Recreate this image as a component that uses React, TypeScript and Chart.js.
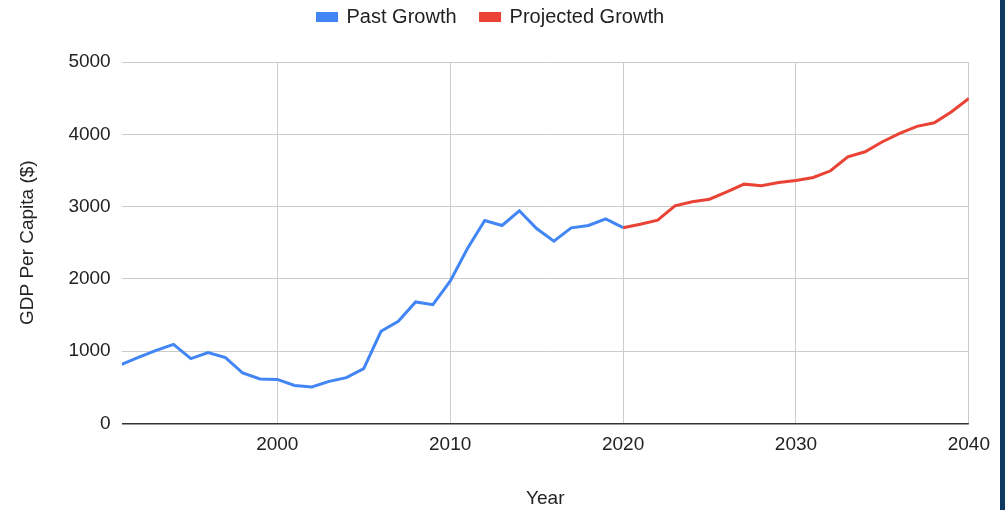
import React, { useEffect, useRef } from "react";
import { Chart, registerables } from "chart.js";

Chart.register(...registerables);

// Historical GDP per capita, 1991–2020
const pastYears = [
  1991, 1992, 1993, 1994, 1995, 1996, 1997, 1998, 1999, 2000,
  2001, 2002, 2003, 2004, 2005, 2006, 2007, 2008, 2009, 2010,
  2011, 2012, 2013, 2014, 2015, 2016, 2017, 2018, 2019, 2020,
];
const pastValues = [
  818, 918, 1011, 1094, 896, 979, 910, 697, 614, 609,
  524, 503, 582, 633, 757, 1274, 1413, 1680, 1643, 1969,
  2419, 2807, 2738, 2941, 2696, 2521, 2705, 2738, 2830, 2708,
];

// Projected GDP per capita, 2020–2040
const projectedYears = [
  2020, 2021, 2022, 2023, 2024, 2025, 2026, 2027, 2028, 2029, 2030,
  2031, 2032, 2033, 2034, 2035, 2036, 2037, 2038, 2039, 2040,
];
const projectedValues = [
  2708, 2756, 2812, 3010, 3066, 3102, 3204, 3310, 3287, 3333, 3361,
  3403, 3495, 3689, 3758, 3897, 4012, 4109, 4160, 4312, 4497,
];

const yearTicks = [2000, 2010, 2020, 2030, 2040];
const gdpTicks = [0, 1000, 2000, 3000, 4000, 5000];

const FONT = "'Liberation Sans', Arial, sans-serif";
const TEXT = "#222222";

// Adds empty space between the legend and the plot area.
const legendGap = {
  id: "legendGap",
  afterInit(chart: any) {
    const legend = chart.legend;
    if (!legend) return;
    const fit = legend.fit;
    legend.fit = function () {
      fit.call(this);
      this.height += 25;
    };
  },
};

export default function App() {
  const canvasRef = useRef<HTMLCanvasElement | null>(null);

  useEffect(() => {
    const canvas = canvasRef.current;
    if (!canvas) return;

    const chart = new Chart(canvas, {
      type: "line",
      data: {
        datasets: [
          {
            label: "Past Growth",
            data: pastYears.map((x, i) => ({ x, y: pastValues[i] })),
            borderColor: "#4285f4",
            backgroundColor: "#4285f4",
            borderWidth: 3,
            pointRadius: 0,
            tension: 0,
          },
          {
            label: "Projected Growth",
            data: projectedYears.map((x, i) => ({ x, y: projectedValues[i] })),
            borderColor: "#ea4335",
            backgroundColor: "#ea4335",
            borderWidth: 3,
            pointRadius: 0,
            tension: 0,
          },
        ],
      },
      plugins: [legendGap],
      options: {
        responsive: false,
        animation: false,
        layout: { padding: { left: 12.6, right: 31, top: -17, bottom: 0 } },
        plugins: {
          tooltip: { enabled: false },
          legend: {
            position: "top",
            align: "center",
            labels: {
              boxWidth: 19,
              boxHeight: 7,
              padding: 24,
              color: TEXT,
              font: { family: FONT, size: 20 },
            },
          },
        },
        scales: {
          x: {
            type: "linear",
            min: pastYears[0],
            max: projectedYears[projectedYears.length - 1],
            afterBuildTicks: (axis: any) => {
              axis.ticks = yearTicks.map((value) => ({ value }));
            },
            ticks: {
              color: TEXT,
              font: { family: FONT, size: 19 },
              padding: 10,
              maxRotation: 0,
              callback: (v: any) => String(v),
            },
            grid: { color: "#cccccc", lineWidth: 1, drawTicks: false },
            border: { display: false },
            title: {
              display: true,
              text: "Year",
              color: TEXT,
              font: { family: FONT, size: 19 },
              padding: { top: 21, bottom: 0 },
            },
          },
          y: {
            min: gdpTicks[0],
            max: gdpTicks[gdpTicks.length - 1],
            afterBuildTicks: (axis: any) => {
              axis.ticks = gdpTicks.map((value) => ({ value }));
            },
            ticks: {
              color: TEXT,
              font: { family: FONT, size: 19 },
              padding: 11,
              callback: (v: any) => String(v),
            },
            grid: {
              color: (ctx: any) => (ctx.tick && ctx.tick.value === 0 ? "#333333" : "#cccccc"),
              lineWidth: (ctx: any) => (ctx.tick && ctx.tick.value === 0 ? 1.5 : 1),
              drawTicks: false,
            },
            border: { display: false },
            title: {
              display: true,
              text: "GDP Per Capita ($)",
              color: TEXT,
              font: { family: FONT, size: 19 },
              padding: { top: 4, bottom: 18 },
            },
          },
        },
      },
    });

    return () => chart.destroy();
  }, []);

  return (
    <div
      style={{
        position: "fixed",
        left: 0,
        top: 0,
        width: 1005,
        height: 510,
        background: "#ffffff",
        overflow: "hidden",
      }}
    >
      <canvas
        ref={canvasRef}
        width={1000}
        height={510}
        style={{ position: "absolute", left: 0, top: 0, width: 1000, height: 510 }}
      />
      <div
        style={{
          position: "absolute",
          left: 1000,
          top: 0,
          width: 5,
          height: 510,
          background: "#0f3a60",
        }}
      />
    </div>
  );
}
